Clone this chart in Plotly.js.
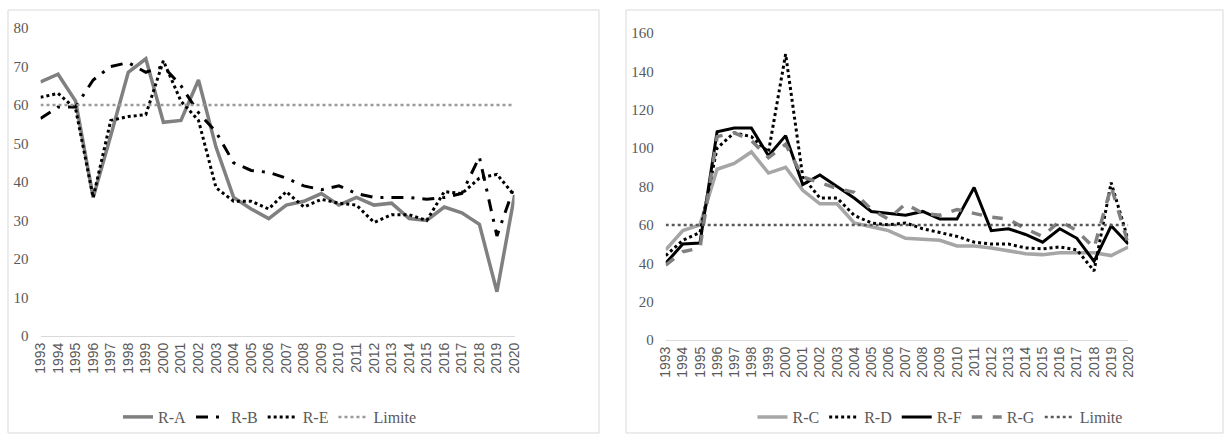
<!DOCTYPE html>
<html><head><meta charset="utf-8">
<script src="https://cdn.plot.ly/plotly-3.0.1.min.js"></script>
<style>body{margin:0}#c{width:1225px;height:440px}</style></head>
<body><div id="c"></div>
<script>
const years = [];
for (let y = 1993; y <= 2020; y++) years.push(String(y));
const rA = [66,68,61,36,52,68.5,72,55.5,56,66.5,49,36,33,30.5,34,35,37,34,36,34,34.5,30.5,30,33.5,32,29,11.5,36.5];
const rB = [56.5,59.5,59.5,66.5,70,71,68.5,70,65,58,53,45,43,42.5,41,39,38,39,37,36,36,36,35.5,36,37,46.5,26,39];
const rE = [62,63,59,36,56,57,57.5,71.5,61,56,38.5,35,35,33,37.5,33.5,35.5,34.5,34,29.5,31.5,31.5,30,37.5,37,41,42,36.5];
const rC = [47,57,60,89,92,98,87,90,78,71,71,61,59,57,53,52.5,52,49,49,48,46.5,45,44.5,45.5,45.5,45.5,44,48.5];
const rD = [44,52,56,100,108,106,98,149,85,74,74,65,61,60,61,58,56,54,51,50,50,48,47.5,48.5,47,36,82,52];
const rF = [40,50,50.5,108.5,110.5,110.5,96,106.5,81,86,80,74,67,66,65,67,63,63,79.5,57,58,55,51,58,53,41,59.5,50];
const rG = [39,46,48,106,108,104,95,102,85,82,79,77,68,63,71,66,65,68,66,64,63,58,54,62,57,48,80,50];
const limite = years.map(() => 60);

function tr(name, y, color, dash, w, ax, lg) {
  return {x: years, y: y, name: name, type: 'scatter', mode: 'lines',
    line: {color: color, dash: dash, width: w}, xaxis: ax[0], yaxis: ax[1], legend: lg};
}
const A1 = ['x', 'y'], A2 = ['x2', 'y2'];
const data = [
  tr('R-A', rA, '#808080', 'solid', 3.5, A1, 'legend'),
  tr('R-B', rB, '#000000', '12px,8px,3px,8px', 3, A1, 'legend'),
  tr('R-E', rE, '#000000', 'dot', 3, A1, 'legend'),
  tr('Limite', limite, '#999999', 'dot', 2.5, A1, 'legend'),
  tr('R-C', rC, '#a6a6a6', 'solid', 3.5, A2, 'legend2'),
  tr('R-D', rD, '#000000', 'dot', 3, A2, 'legend2'),
  tr('R-F', rF, '#000000', 'solid', 3, A2, 'legend2'),
  tr('R-G', rG, '#808080', 'dash', 3.5, A2, 'legend2'),
  tr('Limite', limite, '#595959', 'dot', 2.5, A2, 'legend2')
];
const W = 1225, H = 440;
const SERIF = 'Times New Roman';
const xt = {family: 'Arial', size: 14, color: '#595959'};
const yt = {family: SERIF, size: 15, color: '#595959'};
const lf = {family: SERIF, size: 16, color: '#595959'};
const xcommon = {type: 'category', tickangle: -90, tickfont: xt, showgrid: false, showline: true,
  linecolor: '#d9d9d9', linewidth: 1, ticks: '', zeroline: false, fixedrange: true};
const ycommon = {showgrid: false, showline: false, zeroline: false, tickfont: yt, ticks: 'outside', ticklen: 8, tickcolor: 'rgba(0,0,0,0)', fixedrange: true};
const layout = {
  width: W, height: H, margin: {l: 0, r: 0, t: 0, b: 0},
  paper_bgcolor: '#fff', plot_bgcolor: 'rgba(0,0,0,0)',
  xaxis: Object.assign({}, xcommon, {domain: [40.5 / W, 514.5 / W], anchor: 'y'}),
  yaxis: Object.assign({}, ycommon, {domain: [104 / H, 412 / H], range: [0, 80], dtick: 10, anchor: 'x'}),
  xaxis2: Object.assign({}, xcommon, {domain: [665.7 / W, 1128.3 / W], anchor: 'y2'}),
  yaxis2: Object.assign({}, ycommon, {domain: [100 / H, 407 / H], range: [0, 160], dtick: 20, anchor: 'x2'}),
  legend: {orientation: 'h', x: 270 / W, xanchor: 'center', y: 23 / H, yanchor: 'middle', font: lf, bgcolor: 'rgba(0,0,0,0)'},
  legend2: {orientation: 'h', x: 940 / W, xanchor: 'center', y: 23 / H, yanchor: 'middle', font: lf, bgcolor: 'rgba(0,0,0,0)'},
  shapes: [
    {type: 'rect', xref: 'paper', yref: 'paper', x0: 8 / W, x1: 599 / W, y0: 7 / H, y1: 430 / H, line: {color: '#d9d9d9', width: 1}},
    {type: 'rect', xref: 'paper', yref: 'paper', x0: 626 / W, x1: 1223 / W, y0: 7 / H, y1: 430 / H, line: {color: '#d9d9d9', width: 1}}
  ]
};
Plotly.newPlot('c', data, layout, {displayModeBar: false, staticPlot: true});
</script></body></html>
